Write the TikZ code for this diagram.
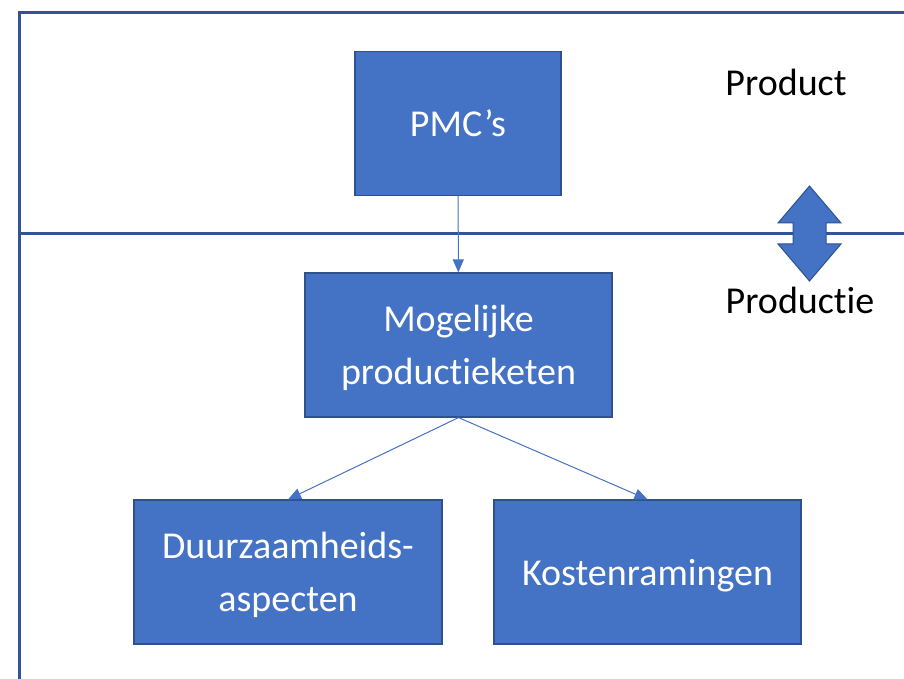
\documentclass[tikz,border=0pt]{standalone}
\usepackage{fontspec}
\setmainfont{Carlito}[Ligatures=NoCommon]
\usetikzlibrary{arrows.meta}
\definecolor{boxblue}{HTML}{4472C4}
\definecolor{boxedge}{HTML}{2F528F}
\definecolor{frameblue}{HTML}{2F5597}

\begin{document}
\begin{tikzpicture}[x=0.5pt,y=-0.5pt,
  box/.style={draw=boxedge,line width=0.6pt,fill=boxblue,text=white,align=center,inner sep=0pt,
    minimum height=72pt,text depth=0pt,font=\fontsize{19}{26.5}\selectfont},
  level/.style={inner sep=0pt,font=\fontsize{19}{23}\selectfont},
  link/.style={draw=boxblue,line width=0.5pt,-{Triangle[length=6.5pt,width=5.5pt]}}]
\useasboundingbox (0,0) rectangle (904,679);
\draw[frameblue,line width=1.5pt] (904,13) -- (19,13) -- (19,679);
\draw[frameblue,line width=1.5pt] (19,234) -- (904,234);
\node[box,minimum width=103pt] (pmc) at (458,123.5) {PMC’s};
\node[box,minimum width=153.5pt] (keten) at (458.5,345) {Mogelijke\\productieketen};
\node[box,minimum width=154pt] (duurzaam) at (288,572) {Duurzaamheids-\\aspecten};
\node[box,minimum width=153.5pt] (kosten) at (647.5,572) {Kostenramingen};
\draw[link] (pmc) -- (keten);
\draw[link] (keten.south) -- (duurzaam.north);
\draw[link] (keten.south) -- (kosten.north);
\node[level] (product) at (786,82) {Product};
\node[level] (productie) at (800,300) {Productie};
\filldraw[fill=boxblue,draw=boxedge,line width=0.5pt] (809.5,186) -- (841,223) -- (826,223) -- (826,244)
  -- (841,244) -- (809.5,281) -- (778,244) -- (793,244) -- (793,223) -- (778,223) -- cycle;
\end{tikzpicture}
\end{document}
